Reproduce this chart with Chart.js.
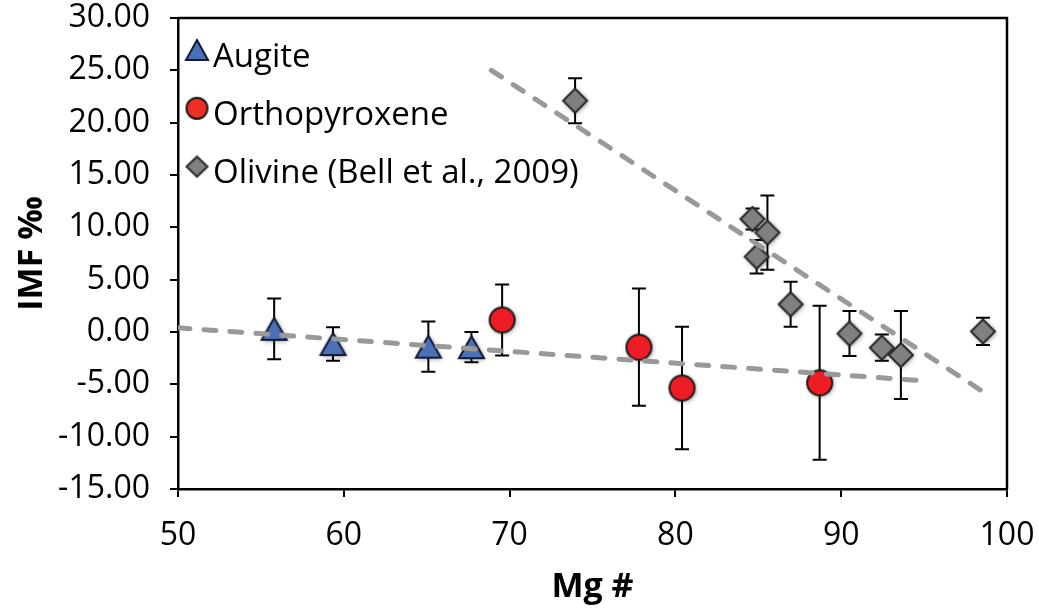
<!DOCTYPE html>
<html lang="en">
<head>
<meta charset="UTF-8">
<title>IMF vs Mg #</title>
<script src="https://cdn.jsdelivr.net/npm/chart.js"></script>
<style>
  body { margin: 0; background: #fff; }
  .wrap { width: 1039px; height: 608px; }
</style>
</head>
<body>
<div class="wrap"><canvas id="imfChart"></canvas></div>
<script>
// Series names (legend order)
const seriesNames = ['Augite', 'Orthopyroxene', 'Olivine (Bell et al., 2009)'];

// Augite
const augiteMg  = [55.8, 59.35, 65.1, 67.7];
const augiteImf = [0.3, -1.15, -1.4, -1.45];
const augiteErr = [2.9, 1.6, 2.4, 1.45];

// Orthopyroxene
const opxMg  = [69.55, 77.8, 80.4, 88.7];
const opxImf = [1.15, -1.45, -5.35, -4.85];
const opxErr = [3.4, 5.6, 5.85, 7.35];

// Olivine (Bell et al., 2009)
const olMg  = [73.95, 84.65, 85.55, 84.9, 86.95, 90.5, 92.45, 93.6, 98.55];
const olImf = [22.1, 10.8, 9.5, 7.2, 2.65, -0.15, -1.5, -2.2, 0.05];
const olErr = [2.15, 1.0, 3.55, 1.6, 2.15, 2.15, 1.25, 4.2, 1.3];

// Trend lines (end points)
const pxTrendMg  = [50, 95.3];
const pxTrendImf = [0.4, -4.7];
const olTrendMg  = [68.9, 98.6];
const olTrendImf = [25.0, -5.75];

// Axis ranges
const xMin = 50, xMax = 100, xStep = 10;
const yMin = -15, yMax = 30, yStep = 5;

const toPoints = (xs, ys) => xs.map((x, i) => ({ x: x, y: ys[i] }));

// Marker images: drawn once, centred on their bounding box
function makeMarker(kind, w, h, fill, stroke, shadow) {
  const pad = 7;
  const c = document.createElement('canvas');
  c.width = Math.ceil(w + pad * 2);
  c.height = Math.ceil(h + pad * 2);
  const g = c.getContext('2d');
  const cx = c.width / 2, cy = c.height / 2;
  g.beginPath();
  if (kind === 'triangle') {
    g.moveTo(cx, cy - h / 2);
    g.lineTo(cx + w / 2, cy + h / 2);
    g.lineTo(cx - w / 2, cy + h / 2);
    g.closePath();
  } else if (kind === 'circle') {
    g.arc(cx, cy, w / 2, 0, Math.PI * 2);
  } else {
    g.moveTo(cx, cy - h / 2);
    g.lineTo(cx + w / 2, cy);
    g.lineTo(cx, cy + h / 2);
    g.lineTo(cx - w / 2, cy);
    g.closePath();
  }
  if (shadow) {
    g.shadowColor = 'rgba(0,0,0,0.5)';
    g.shadowBlur = 5;
    g.shadowOffsetX = 1;
    g.shadowOffsetY = 1;
  }
  g.fillStyle = fill;
  g.fill();
  g.shadowColor = 'transparent';
  g.lineWidth = 2;
  g.strokeStyle = stroke;
  g.stroke();
  return c;
}

const augiteMarker = makeMarker('triangle', 25, 22, '#4a70b8', '#141a33', true);
const opxMarker    = makeMarker('circle', 25, 25, '#ee1c24', '#1a1a1a', true);
const olMarker     = makeMarker('diamond', 24, 24, '#808080', '#2a2a2a', true);
const legendMarkers = [
  makeMarker('triangle', 22, 20, '#4a70b8', '#141a33', false),
  makeMarker('circle', 21, 21, '#ee3024', '#1a1a1a', false),
  makeMarker('diamond', 21, 20, '#808080', '#2a2a2a', false)
];

// Vertical error bars with caps, under the markers
const errorBars = {
  id: 'errorBars',
  beforeDatasetsDraw(chart) {
    const { ctx, scales: { x, y } } = chart;
    ctx.save();
    ctx.strokeStyle = '#000';
    ctx.lineWidth = 2;
    chart.data.datasets.forEach(ds => {
      if (!ds.errors) return;
      ds.data.forEach((p, i) => {
        const px = x.getPixelForValue(p.x);
        const top = y.getPixelForValue(p.y + ds.errors[i]);
        const bot = y.getPixelForValue(p.y - ds.errors[i]);
        ctx.beginPath();
        ctx.moveTo(px, top); ctx.lineTo(px, bot);
        ctx.moveTo(px - 7, top); ctx.lineTo(px + 7, top);
        ctx.moveTo(px - 7, bot); ctx.lineTo(px + 7, bot);
        ctx.stroke();
      });
    });
    ctx.restore();
  }
};

// Top and right edges of the plot box
const plotFrame = {
  id: 'plotFrame',
  afterDraw(chart) {
    const { ctx, chartArea: a } = chart;
    ctx.save();
    ctx.strokeStyle = '#000';
    ctx.lineWidth = 2.5;
    ctx.beginPath();
    ctx.moveTo(a.left, a.top);
    ctx.lineTo(a.right, a.top);
    ctx.lineTo(a.right, a.bottom);
    ctx.stroke();
    ctx.restore();
  }
};

// Legend inside the plot, top-left
const innerLegend = {
  id: 'innerLegend',
  afterDraw(chart) {
    const { ctx, chartArea: a } = chart;
    ctx.save();
    ctx.font = "33px 'Open Sans'";
    ctx.fillStyle = '#000';
    ctx.textBaseline = 'alphabetic';
    seriesNames.forEach((name, i) => {
      const cy = a.top + 32 + i * 58.3;
      const m = legendMarkers[i];
      ctx.drawImage(m, a.left + 19 - m.width / 2, cy - m.height / 2);
      ctx.fillText(name, a.left + 35, cy + 16.5);
    });
    ctx.restore();
  }
};

Chart.defaults.font.family = "'Open Sans', sans-serif";
Chart.defaults.color = '#000';

const trendStyle = {
  type: 'line',
  borderColor: '#999999',
  borderWidth: 5,
  borderDash: [12, 14],
  borderCapStyle: 'round',
  pointRadius: 0,
  fill: false,
  order: 0
};

new Chart(document.getElementById('imfChart'), {
  type: 'scatter',
  data: {
    datasets: [
      Object.assign({ label: 'px trend', data: toPoints(pxTrendMg, pxTrendImf) }, trendStyle),
      Object.assign({ label: 'ol trend', data: toPoints(olTrendMg, olTrendImf) }, trendStyle),
      {
        label: seriesNames[0],
        data: toPoints(augiteMg, augiteImf),
        errors: augiteErr,
        pointStyle: augiteMarker,
        order: 1
      },
      {
        label: seriesNames[1],
        data: toPoints(opxMg, opxImf),
        errors: opxErr,
        pointStyle: opxMarker,
        order: 1
      },
      {
        label: seriesNames[2],
        data: toPoints(olMg, olImf),
        errors: olErr,
        pointStyle: olMarker,
        order: 1
      }
    ]
  },
  options: {
    responsive: true,
    maintainAspectRatio: false,
    animation: false,
    layout: { padding: { top: 18, right: 32, left: 0, bottom: 0 } },
    plugins: {
      legend: { display: false },
      tooltip: { enabled: false }
    },
    scales: {
      x: {
        type: 'linear',
        min: xMin,
        max: xMax,
        ticks: { stepSize: xStep, font: { size: 32 }, padding: 20 },
        grid: { drawOnChartArea: false, drawTicks: true, tickLength: 8, color: '#000', lineWidth: 2 },
        border: { display: true, color: '#000', width: 2.5 },
        title: { display: true, text: 'Mg #', font: { size: 34, weight: 'bold' }, padding: { top: 0, bottom: 0 } },
        afterFit(scale) {
          scale.height = 119;
          scale.paddingLeft = 0;
          scale.paddingRight = 0;
        }
      },
      y: {
        type: 'linear',
        min: yMin,
        max: yMax,
        ticks: {
          stepSize: yStep,
          font: { size: 32 },
          padding: 20,
          callback: v => v.toFixed(2)
        },
        grid: { drawOnChartArea: false, drawTicks: true, tickLength: 8, color: '#000', lineWidth: 2 },
        border: { display: true, color: '#000', width: 2.5 },
        title: { display: true, text: 'IMF ‰', font: { size: 34, weight: 'bold' }, padding: { top: 12, bottom: 0 } },
        afterFit(scale) {
          scale.width = 178;
          scale.paddingTop = 0;
          scale.paddingBottom = 0;
        }
      }
    }
  },
  plugins: [errorBars, plotFrame, innerLegend]
});
</script>
</body>
</html>
